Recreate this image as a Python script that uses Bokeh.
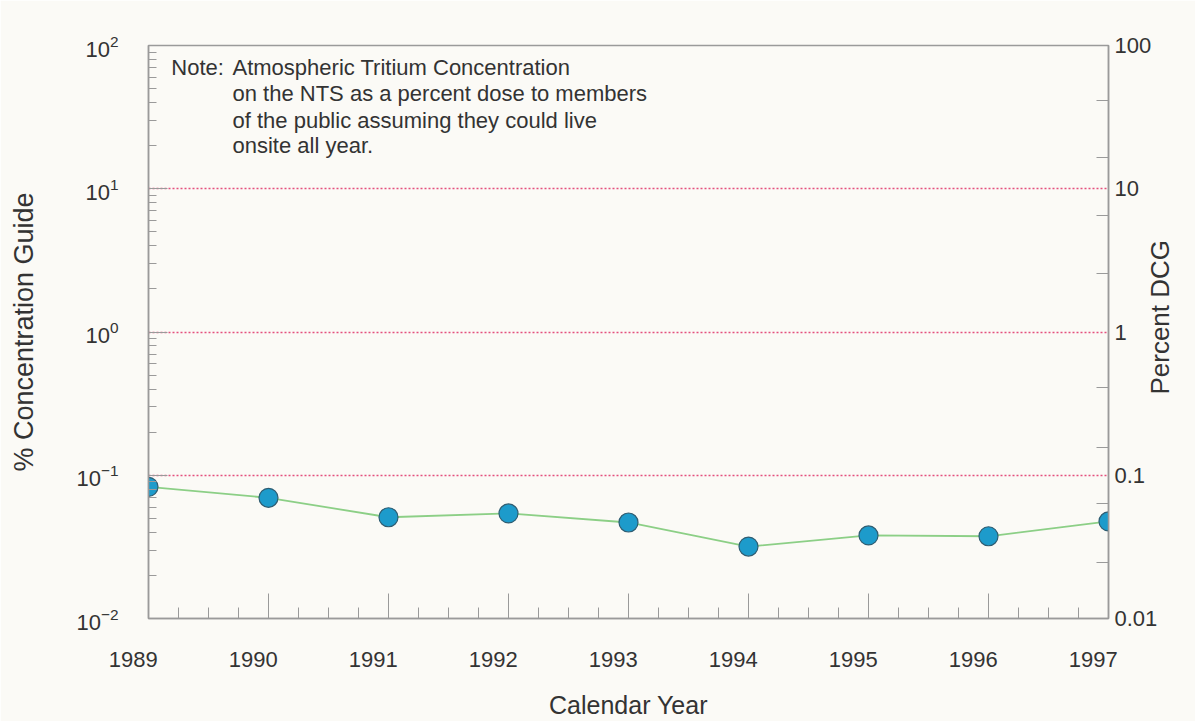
import math
from bokeh.plotting import figure
from bokeh.models import (LogAxis, FixedTicker, LogTickFormatter, CustomJSTickFormatter,
                          Label, ColumnDataSource, Range1d)
from bokeh.embed import file_html
from bokeh.resources import INLINE

# ---- data ----
years = [1989, 1990, 1991, 1992, 1993, 1994, 1995, 1996, 1997]
pct_dcg = [0.083, 0.0696, 0.0509, 0.0541, 0.0468, 0.0318, 0.0380, 0.0375, 0.0476]
y_major_ticks = [0.01, 0.1, 1, 10, 100]
reference_levels = [0.1, 1, 10]
x_minor_ticks = [y + q for y in years[:-1] for q in (0.25, 0.5, 0.75)]
left_minor_ticks = [k * 10.0 ** e for e in (-2, -1, 0, 1) for k in range(2, 10)]
right_minor_ticks = [0.0246, 0.0635, 0.156, 0.41, 2.56, 6.5, 16.5, 41]
note_head = "Note:"
note_lines = ["Atmospheric Tritium Concentration",
              "on the NTS as a percent dose to members",
              "of the public assuming they could live",
              "onsite all year."]
x_title = "Calendar Year"
y_title_left = "% Concentration Guide"
y_title_right = "Percent DCG"

FONT = "Liberation Sans"
TEXT = "#333333"
AXIS = "#9a9a9a"
BG = "#fbfaf6"

p = figure(width=1195, height=721, y_axis_type="log",
           x_range=Range1d(years[0], years[-1]), y_range=Range1d(0.01, 100),
           output_backend="svg", toolbar_location=None,
           min_border_left=148, min_border_right=87,
           min_border_top=45, min_border_bottom=103)
p.background_fill_color = BG
p.border_fill_color = BG
p.outline_line_color = AXIS
p.outline_line_width = 1.5

# grid: only the dotted reference lines
p.xgrid.visible = False
p.ygrid.ticker = FixedTicker(ticks=reference_levels)
p.ygrid.grid_line_color = "#e4507e"
p.ygrid.grid_line_dash = "2 2"
p.ygrid.grid_line_width = 1.5

# x axis (year labels sit slightly left of their ticks in the original)
xa = p.xaxis[0]
xa.ticker = FixedTicker(ticks=years, minor_ticks=x_minor_ticks)
xa.formatter = CustomJSTickFormatter(
    code="return tick.toFixed(0) + '\\u00a0\\u00a0\\u00a0\\u00a0\\u00a0';")
xa.major_tick_in = 25
xa.major_tick_out = 0
xa.minor_tick_in = 11
xa.minor_tick_out = 0
xa.axis_line_color = AXIS
xa.axis_line_width = 1.5
xa.major_tick_line_color = AXIS
xa.minor_tick_line_color = AXIS
xa.major_label_text_font = FONT
xa.major_label_text_font_size = "22px"
xa.major_label_text_color = TEXT
xa.major_label_standoff = 28
xa.axis_label = x_title
xa.axis_label_text_font = FONT
xa.axis_label_text_font_size = "25px"
xa.axis_label_text_font_style = "normal"
xa.axis_label_text_color = TEXT
xa.axis_label_standoff = 16

# left axis
ya = p.yaxis[0]
ya.ticker = FixedTicker(ticks=y_major_ticks, minor_ticks=left_minor_ticks)
ya.formatter = LogTickFormatter()
ya.major_tick_in = 19
ya.major_tick_out = 0
ya.minor_tick_in = 8
ya.minor_tick_out = 0
ya.axis_line_color = AXIS
ya.axis_line_width = 1.5
ya.major_tick_line_color = AXIS
ya.minor_tick_line_color = AXIS
ya.major_label_text_font = FONT
ya.major_label_text_font_size = "22px"
ya.major_label_text_color = TEXT
ya.major_label_standoff = 30
ya.axis_label = y_title_left
ya.axis_label_text_font = FONT
ya.axis_label_text_font_size = "27px"
ya.axis_label_text_font_style = "normal"
ya.axis_label_text_color = TEXT
ya.axis_label_standoff = 34

# right axis; its title reads bottom-to-top and sits a little above centre
RIGHT_TITLE_PX = 26
pad = "\u00a0" * int(round(225 / (0.278 * RIGHT_TITLE_PX)))
ra = LogAxis(ticker=FixedTicker(ticks=y_major_ticks, minor_ticks=right_minor_ticks),
             formatter=CustomJSTickFormatter(code="return parseFloat(tick.toPrecision(6)).toString();"))
ra.major_tick_in = 0
ra.major_tick_out = 0
ra.minor_tick_in = 12
ra.minor_tick_out = 0
ra.axis_line_color = AXIS
ra.axis_line_width = 1.5
ra.minor_tick_line_color = AXIS
ra.major_label_text_font = FONT
ra.major_label_text_font_size = "22px"
ra.major_label_text_color = TEXT
ra.major_label_standoff = 6
ra.axis_label = pad + y_title_right
ra.axis_label_orientation = math.pi / 2
ra.axis_label_align = "start"
ra.axis_label_text_font = FONT
ra.axis_label_text_font_size = "%dpx" % RIGHT_TITLE_PX
ra.axis_label_text_font_style = "normal"
ra.axis_label_text_color = TEXT
ra.axis_label_standoff = 0
p.add_layout(ra, "right")

# series
src = ColumnDataSource(data=dict(year=years, val=pct_dcg))
p.line("year", "val", source=src, line_color="#8ccf86", line_width=1.8)
p.scatter("year", "val", source=src, size=19, fill_color="#1d9bcb",
          line_color="#2f5d72", line_width=1.2)

# note
p.add_layout(Label(x=1989.19, y=70.2, text=note_head, text_font=FONT,
                   text_font_size="22px", text_color=TEXT, text_baseline="middle"))
for yy, line in zip([70.2, 46.2, 29.9, 20.0], note_lines):
    p.add_layout(Label(x=1989.70, y=yy, text=line, text_font=FONT,
                       text_font_size="22px", text_color=TEXT, text_baseline="middle"))

open("out.html", "w").write(file_html(p, INLINE))
